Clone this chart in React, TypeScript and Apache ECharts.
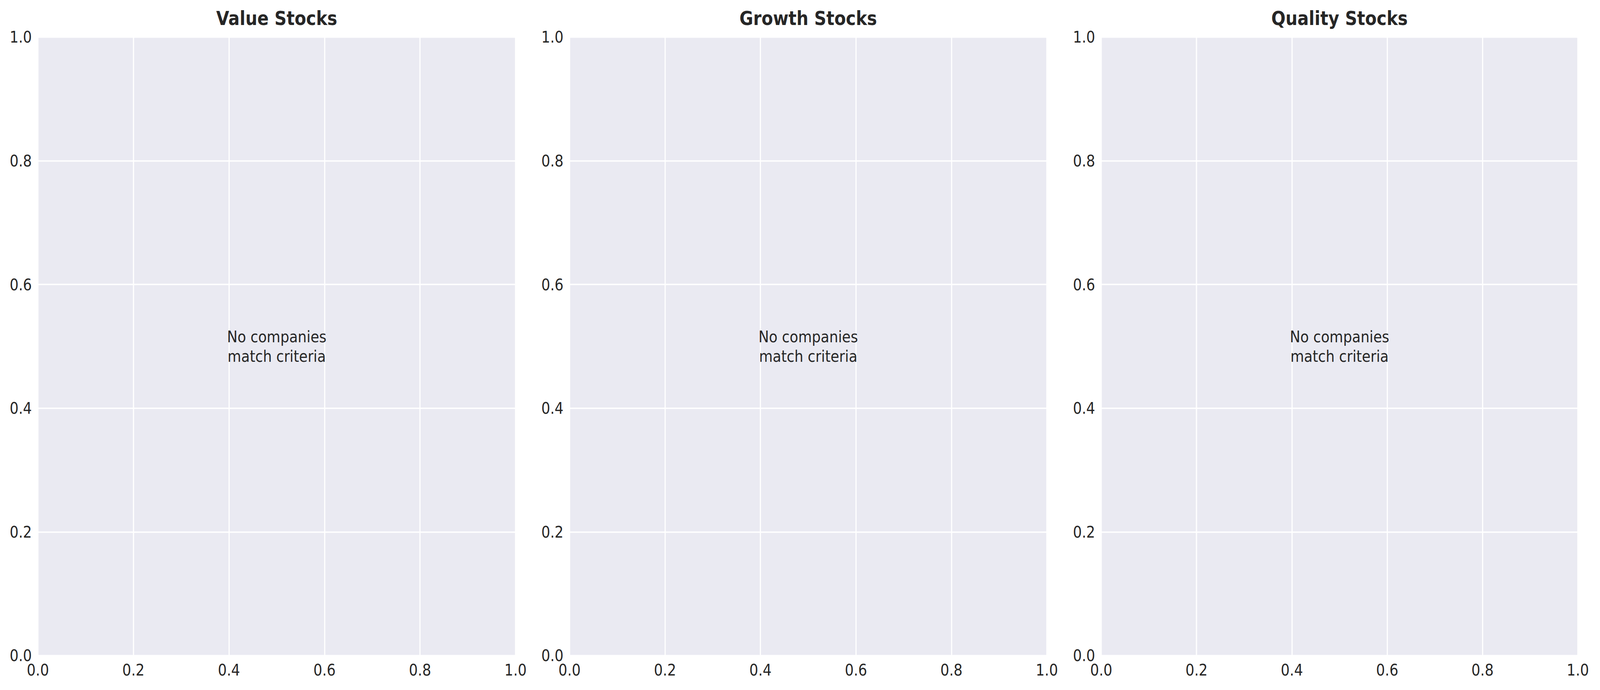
import React, { useEffect, useRef, useState } from "react";
import * as echarts from "echarts";

const panelTitles = ["Value Stocks", "Growth Stocks", "Quality Stocks"];
const tickValues = [0, 0.2, 0.4, 0.6, 0.8, 1.0];
const emptyMessage = "No companies\nmatch criteria";
const messagePoint = [0.5, 0.5];
const panelData: number[][][] = [[], [], []];

const W = 4770;
const H = 1766;
const FONT = "DejaVu Sans";
const TEXT = "#262626";

const grids = [
  { left: 113, top: 95, width: 1424, height: 1583 },
  { left: 1698, top: 95, width: 1423, height: 1583 },
  { left: 3283, top: 95, width: 1421, height: 1583 },
];

export default function App() {
  const ref = useRef<HTMLDivElement>(null);
  const [scale, setScale] = useState<[number, number]>(() => [
    Math.min(1, window.innerWidth / W),
    Math.min(1, window.innerHeight / H),
  ]);

  useEffect(() => {
    const onResize = () =>
      setScale([
        Math.min(1, window.innerWidth / W),
        Math.min(1, window.innerHeight / H),
      ]);
    window.addEventListener("resize", onResize);
    return () => window.removeEventListener("resize", onResize);
  }, []);

  useEffect(() => {
    if (!ref.current) return;
    const chart = echarts.init(ref.current, undefined, { renderer: "svg" });
    const axisCommon = (idx: number) => ({
      type: "value" as const,
      gridIndex: idx,
      min: tickValues[0],
      max: tickValues[tickValues.length - 1],
      interval: 0.2,
      axisLine: { show: false },
      axisTick: { show: false },
      splitLine: { show: true, lineStyle: { color: "#ffffff", width: 3.5 } },
      axisLabel: {
        color: TEXT,
        fontFamily: FONT,
        fontSize: 41.7,
        formatter: (v: number) => v.toFixed(1),
        showMinLabel: true,
        showMaxLabel: true,
      },
    });
    const option: any = {
      animation: false,
      backgroundColor: "#ffffff",
      title: panelTitles.map((t, i) => ({
        text: t,
        left: grids[i].left + grids[i].width / 2,
        top: 22,
        textAlign: "center",
        padding: 0,
        textStyle: {
          fontFamily: FONT,
          fontWeight: "bold",
          fontSize: 50,
          color: TEXT,
        },
      })),
      grid: grids.map((g) => ({
        ...g,
        show: true,
        backgroundColor: "#EAEAF2",
        borderWidth: 0,
        containLabel: false,
      })),
      xAxis: grids.map((_, i) => ({
        ...axisCommon(i),
        axisLabel: { ...axisCommon(i).axisLabel, margin: 16 },
      })),
      yAxis: grids.map((_, i) => ({
        ...axisCommon(i),
        axisLabel: { ...axisCommon(i).axisLabel, margin: 18 },
      })),
      series: grids.flatMap((_, i) => [
        {
          type: "scatter",
          xAxisIndex: i,
          yAxisIndex: i,
          data: panelData[i],
          symbolSize: 20,
        },
        {
          type: "scatter",
          xAxisIndex: i,
          yAxisIndex: i,
          data: panelData[i].length === 0 ? [messagePoint] : [],
          symbolSize: 0,
          silent: true,
          itemStyle: { opacity: 1 },
          label: {
            show: true,
            position: "inside",
            formatter: emptyMessage,
            align: "center",
            verticalAlign: "middle",
            color: TEXT,
            opacity: 1,
            textBorderWidth: 0,
            fontFamily: FONT,
            fontSize: 41.7,
            lineHeight: 50,
          },
        },
      ]),
    };
    chart.setOption(option);
    return () => chart.dispose();
  }, []);

  return (
    <div
      ref={ref}
      style={{
        position: "fixed",
        left: 0,
        top: 0,
        width: W,
        height: H,
        transformOrigin: "0 0",
        transform: `scale(${scale[0]}, ${scale[1]})`,
      }}
    />
  );
}
